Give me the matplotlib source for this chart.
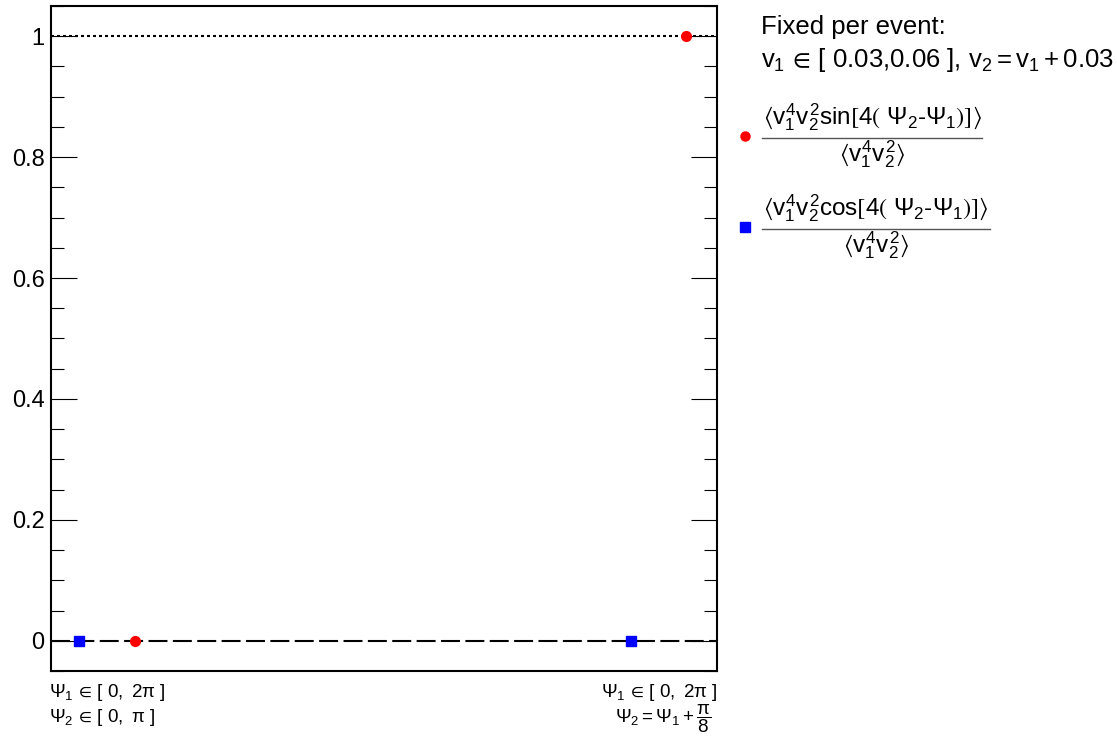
import numpy as np
import matplotlib
matplotlib.use("Agg")
import matplotlib.pyplot as plt
from matplotlib.lines import Line2D
from matplotlib.ticker import MultipleLocator, FixedLocator

plt.rcParams["font.family"] = ["Liberation Sans", "DejaVu Sans"]
plt.rcParams["mathtext.fontset"] = "custom"
plt.rcParams["mathtext.rm"] = "Liberation Sans"
plt.rcParams["mathtext.it"] = "Liberation Sans"
plt.rcParams["mathtext.sf"] = "Liberation Sans"
plt.rcParams["mathtext.bf"] = "Liberation Sans:bold"
plt.rcParams["mathtext.fallback"] = "stixsans"

# Two event-plane configurations (categories on the x axis)
categories = [0, 1]
cat_labels_top = [r"$\Psi_1\,\in\,[\ 0,\ 2\pi\ ]$", r"$\Psi_1\,\in\,[\ 0,\ 2\pi\ ]$"]
cat_labels_bottom = [r"$\Psi_2\,\in\,[\ 0,\ \pi\ ]$", r"$\Psi_2 = \Psi_1 + \dfrac{\pi}{8}$"]

# Normalised correlators per configuration
sin_values = [0.0, 1.0]
cos_values = [0.0, 0.0]
series_offset = 0.05

y_ticks = [0, 0.2, 0.4, 0.6, 0.8, 1.0]
y_tick_labels = ["0", "0.2", "0.4", "0.6", "0.8", "1"]

W, H = 1117, 742
fig = plt.figure(figsize=(W / 100, H / 100), dpi=100)
ax = fig.add_axes([51 / W, 1 - 671 / H, 666 / W, 665 / H])

ax.set_xlim(-0.1014, 1.106)
ax.set_ylim(-0.05, 1.05)

# Reference lines at 0 and 1
ax.axhline(0, color="black", lw=1.5, dashes=(9.1, 2.6), zorder=1)
ax.axhline(1, color="black", lw=1.5, dashes=(1.44, 1.44), zorder=1)

x = np.array(categories, dtype=float)
ax.plot(x - series_offset, cos_values, ls="none", marker="s", ms=7.5,
        color="#0000ff", zorder=3)
ax.plot(x + series_offset, sin_values, ls="none", marker="o", ms=7,
        color="#ff0000", zorder=3)

for s in ax.spines.values():
    s.set_linewidth(1.5)

ax.yaxis.set_major_locator(FixedLocator(y_ticks))
ax.yaxis.set_minor_locator(MultipleLocator(0.05))
ax.set_yticklabels(y_tick_labels)
ax.tick_params(axis="y", which="major", direction="in", length=19, width=0.8,
               left=True, right=True, labelsize=17, pad=4.5, colors="black")
ax.tick_params(axis="y", which="minor", direction="in", length=9.5, width=0.8,
               left=True, right=True)
ax.tick_params(axis="x", which="both", bottom=False, top=False,
               labelbottom=False)

ftr = fig.transFigure


def fx(px):
    return px / W


def fy(py):
    return 1 - py / H


# Configuration labels under the frame
fig.text(fx(49), fy(697), cat_labels_top[0], fontsize=13.5, ha="left",
         va="baseline", transform=ftr)
fig.text(fx(49), fy(722), cat_labels_bottom[0], fontsize=13.5, ha="left",
         va="baseline", transform=ftr)
fig.text(fx(718), fy(697), cat_labels_top[1], fontsize=13.5, ha="right",
         va="baseline", transform=ftr)
fig.text(fx(712), fy(722), cat_labels_bottom[1], fontsize=13.5, ha="right",
         va="baseline", transform=ftr)

# Legend block
fig.text(fx(761), fy(34), "Fixed per event:", fontsize=18.5, ha="left",
         va="baseline", transform=ftr)
fig.text(fx(761), fy(67),
         r"$v_1\,\in\,[\ 0.03{,}0.06\ ]{,}\ v_2 = v_1 + 0.03$",
         fontsize=18.5, ha="left", va="baseline", transform=ftr)

entries = [
    (r"$\langle v_1^4 v_2^2 \mathrm{sin}\left[4\left(\ \Psi_2 \text{-} \Psi_1\right)\right]\rangle$",
     "o", "#ff0000", 136, 982),
    (r"$\langle v_1^4 v_2^2 \mathrm{cos}\left[4\left(\ \Psi_2 \text{-} \Psi_1\right)\right]\rangle$",
     "s", "#0000ff", 227, 990),
]
den = r"$\langle v_1^4 v_2^2\rangle$"
for num, mk, col, yc, xr in entries:
    fig.add_artist(Line2D([fx(745)], [fy(yc)], marker=mk, color=col,
                          ms=6.5, ls="none", transform=ftr))
    fig.add_artist(Line2D([fx(762), fx(xr)], [fy(yc + 2), fy(yc + 2)],
                          color="#555555", lw=1.0, transform=ftr))
    xm = (762 + xr) / 2
    fig.text(fx(xm), fy(yc - 12), num, fontsize=17.5, ha="center",
             va="baseline", transform=ftr)
    fig.text(fx(xm), fy(yc + 25), den, fontsize=17.5, ha="center",
             va="baseline", transform=ftr)

fig.savefig("out.png", dpi=100)
